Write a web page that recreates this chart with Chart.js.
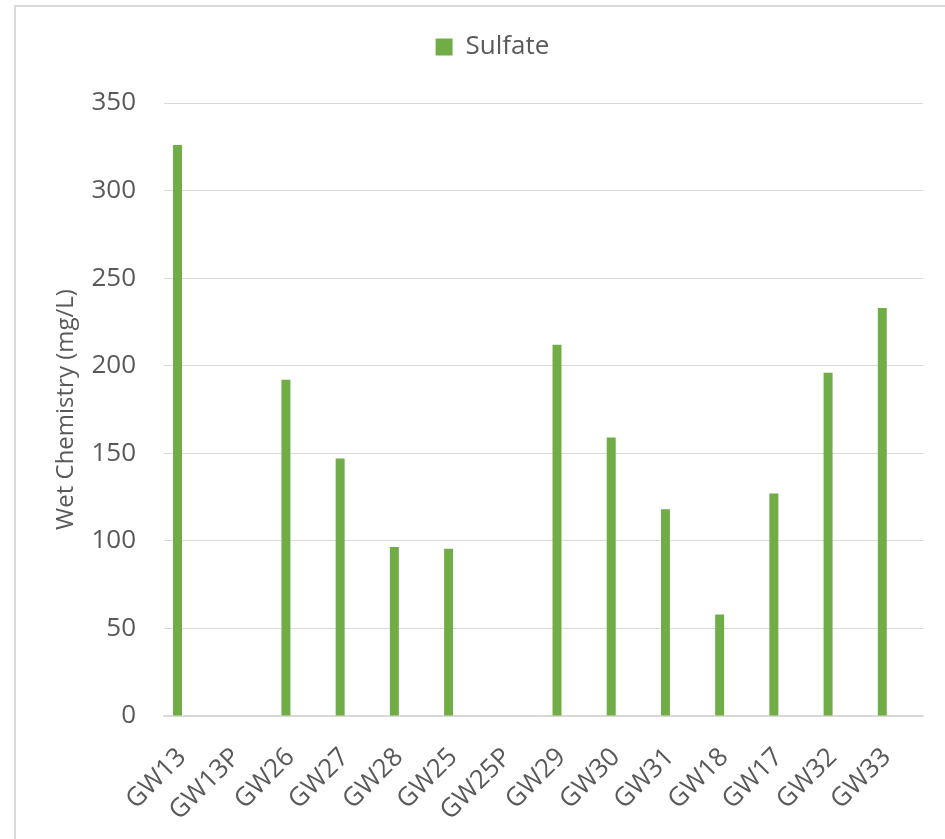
<!DOCTYPE html>
<html>
<head>
<meta charset="utf-8">
<script src="https://cdn.jsdelivr.net/npm/chart.js@4/dist/chart.umd.min.js"></script>
<style>
    html, body { margin: 0; padding: 0; background: #fff; overflow: hidden; }
    .frame {
        position: absolute; left: 14px; top: 5px; width: 2000px; height: 2000px;
        border-left: 2px solid #d9d9d9; border-top: 2px solid #d9d9d9;
    }
    .wrap { position: absolute; left: 0; top: 0; width: 945px; height: 839px; }
</style>
</head>
<body>
<div class="frame"></div>
<div class="wrap"><canvas id="sulfateChart" width="945" height="839"></canvas></div>
<script>
const wells = ['GW13', 'GW13P', 'GW26', 'GW27', 'GW28', 'GW25', 'GW25P', 'GW29', 'GW30', 'GW31', 'GW18', 'GW17', 'GW32', 'GW33'];
const sulfate = [326, null, 192, 147, 96.5, 95.5, null, 212, 159, 118, 58, 127, 196, 233];
const yTicks = [0, 50, 100, 150, 200, 250, 300, 350];

const GREEN = '#70ad47';
const GRID = '#d9d9d9';
const TEXT = '#595959';
const FONT = '"Open Sans", "Noto Sans", sans-serif';

// the Excel chart is clustered with other (empty) analytes, so sulfate sits on the left
const emptySlot = label => ({ label, data: [], backgroundColor: 'transparent' });

// nudge the legend: Excel centres it on the full chart and leaves a gap under it
const legendTweak = {
    id: 'legendTweak',
    beforeInit(chart) {
        const legend = chart.legend;
        const fit = legend.fit;
        legend.fit = function () {
            fit.call(legend);
            this.height += 33;
        };
    },
    afterLayout(chart) {
        chart.legend.left += 31;
        chart.legend.right += 31;
    }
};

new Chart(document.getElementById('sulfateChart').getContext('2d'), {
    type: 'bar',
    data: {
        labels: wells,
        datasets: [
            { label: 'Sulfate', data: sulfate, backgroundColor: GREEN, borderWidth: 0 },
            emptySlot('_a'), emptySlot('_b'), emptySlot('_c')
        ]
    },
    options: {
        responsive: false,
        animation: false,
        categoryPercentage: 0.669,
        barPercentage: 0.99,
        layout: { padding: { top: 24, right: 22, left: 0, bottom: 0 } },
        plugins: {
            legend: {
                position: 'top',
                labels: {
                    boxWidth: 17, boxHeight: 17, padding: 10, color: TEXT,
                    font: { family: FONT, size: 26 },
                    filter: item => item.text === 'Sulfate'
                }
            },
            tooltip: { enabled: false }
        },
        scales: {
            x: {
                grid: { display: false, drawTicks: false },
                border: { display: true, color: GRID, width: 1.5 },
                ticks: {
                    color: TEXT, font: { family: FONT, size: 26 },
                    minRotation: 45, maxRotation: 45, padding: 26, labelOffset: -9,
                    autoSkip: false
                },
                afterFit(scale) { scale.height = 123; }
            },
            y: {
                min: 0, max: 350,
                afterBuildTicks(scale) { scale.ticks = yTicks.map(v => ({ value: v })); },
                grid: { color: GRID, lineWidth: 1, drawTicks: false },
                border: { display: false },
                ticks: { color: TEXT, font: { family: FONT, size: 26 }, padding: 28 },
                title: {
                    display: true, text: 'Wet Chemistry (mg/L)', color: TEXT,
                    font: { family: FONT, size: 24 }, padding: { top: 52, bottom: 0 }
                },
                afterFit(scale) { scale.width = 164; }
            }
        }
    },
    plugins: [legendTweak]
});
</script>
</body>
</html>
